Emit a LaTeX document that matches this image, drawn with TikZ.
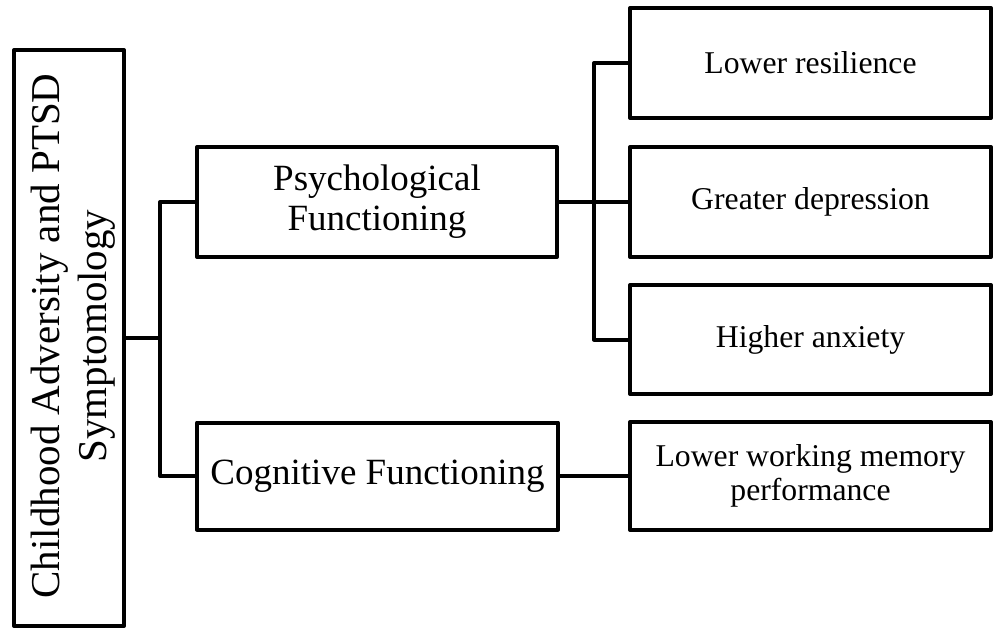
\documentclass[tikz,border=0pt]{standalone}
\usepackage{fontspec}
\setmainfont{Liberation Serif}
\begin{document}
\begin{tikzpicture}[x=1pt,y=-1pt,
  boxshape/.style={draw=black, line width=4pt, line join=round, rectangle, inner sep=0pt, fill=white},
  conn/.style={draw=black, line width=4pt, line join=round},
  bigtext/.style={font=\fontsize{37}{40}\selectfont, align=center},
  smalltext/.style={font=\fontsize{31.7}{34.5}\selectfont, align=center}]
\useasboundingbox (0,0) rectangle (995,631);
% nodes
\node[boxshape, minimum width=110pt, minimum height=576pt] (left) at (69,338) {};
\node[bigtext, font=\fontsize{41}{47}\selectfont, rotate=90] (lefttext) at (73,336) {Childhood Adversity and PTSD\\Symptomology};
\node[boxshape, bigtext, minimum width=360pt, minimum height=110pt] (psych) at (377,202) {Psychological\\Functioning};
\node[boxshape, bigtext, minimum width=361pt, minimum height=107pt] (cog) at (377.5,476) {Cognitive Functioning};
\node[boxshape, smalltext, minimum width=361pt, minimum height=110pt] (lr) at (810.5,63) {Lower resilience};
\node[boxshape, smalltext, minimum width=361pt, minimum height=110pt] (gd) at (810.5,202) {Greater depression};
\node[boxshape, smalltext, minimum width=361pt, minimum height=109pt] (ha) at (810.5,339.5) {Higher anxiety};
\node[boxshape, smalltext, minimum width=361pt, minimum height=108pt] (lwm) at (810.5,476) {Lower working memory\\performance};
\coordinate (j1) at (160,338);
\coordinate (j2) at (594,202);
% connectors
\draw[conn] (left.east) -- (j1);
\draw[conn] (psych.west) -| (j1) |- (cog.west);
\draw[conn] (psych.east) -- (gd.west);
\draw[conn] (lr.west) -| (j2) |- (ha.west);
\draw[conn] (cog.east) -- (lwm.west);
\end{tikzpicture}
\end{document}
